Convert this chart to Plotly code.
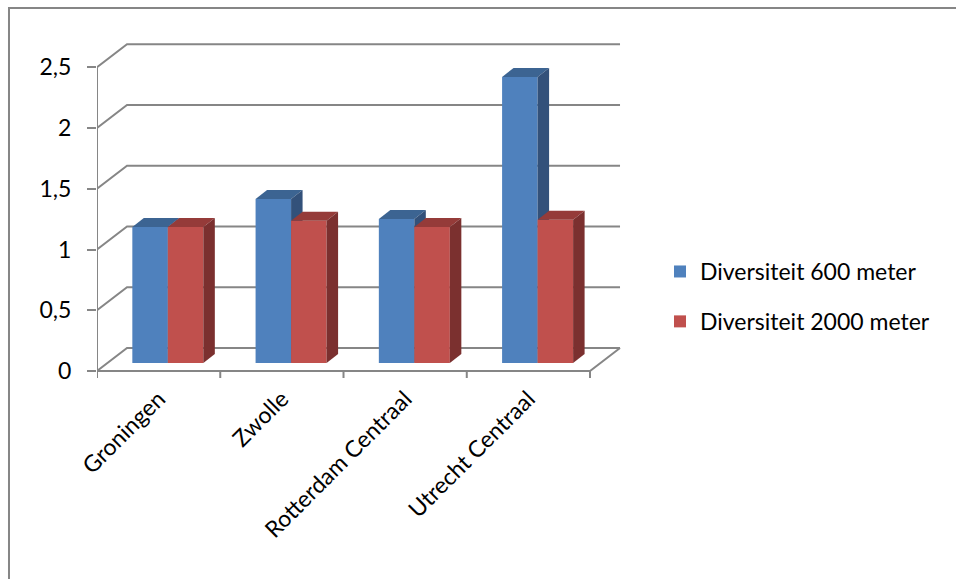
import plotly.graph_objects as go

# ---------------- data ----------------
categories = ["Groningen", "Zwolle", "Rotterdam Centraal", "Utrecht Centraal"]
series_names = ["Diversiteit 600 meter", "Diversiteit 2000 meter"]
div_600 = [1.12, 1.35, 1.185, 2.355]
div_2000 = [1.12, 1.17, 1.12, 1.18]
y_tick_values = [0, 0.5, 1, 1.5, 2, 2.5]
y_tick_labels = ["0", "0,5", "1", "1,5", "2", "2,5"]

# ---------------- style / geometry ----------------
W, H = 956, 579
PX_X = 123.25          # px per category
PX_Y = 121.5           # px per value unit
X0_PX, Y0_PX = 97, 371  # pixel of (0,0) on the front plane
DXB, DYB = 30 / PX_X, 23 / PX_Y          # back-wall offset
BX, BY = 9.2 / PX_X, 8 / PX_Y            # bar front-plane offset
BW = 35.5 / PX_X                         # bar width
SX, SY = 11.5 / PX_X, 9 / PX_Y           # bar depth
GRID = "#868686"
FRONT = ["#4F81BD", "#C0504D"]
TOP = ["#3C6492", "#953B39"]
SIDE = ["#33517A", "#7B302F"]
FONT = "Lato"
FS = 23

n = len(categories)
XMIN, XMAX = 0.0, 4.3
YMIN, YMAX = -0.074, 2.807
L = X0_PX
R = W - (X0_PX + XMAX * PX_X)
B = H - (Y0_PX - YMIN * PX_Y)
T = Y0_PX - YMAX * PX_Y

fig = go.Figure()

def line(xs, ys):
    fig.add_trace(go.Scatter(x=xs, y=ys, mode="lines", line=dict(color=GRID, width=2),
                             hoverinfo="skip", showlegend=False, zorder=0))

# walls / floor
for v in y_tick_values:
    line([0, DXB, n + DXB], [v, v + DYB, v + DYB])
line([0, n, n + DXB], [0, 0, DYB])
line([0, 0], [0, y_tick_values[-1]])
# front category tick marks
tick_len = 7 / PX_Y
for i in range(n + 1):
    line([i, i], [0, -tick_len])

# bars
series = [div_600, div_2000]
for s, vals in enumerate(series):
    z = s + 1
    xs_left = [i + 0.5 + BX - BW + s * BW for i in range(n)]
    fig.add_trace(go.Bar(
        x=[i + 0.5 + BX for i in range(n)], y=vals, base=BY, width=BW,
        offset=-BW + s * BW, marker=dict(color=FRONT[s], line=dict(width=0)),
        name=series_names[s], legendgroup=str(s), zorder=z, hoverinfo="skip"))
    for i, v in enumerate(vals):
        xl = xs_left[i]
        xr = xl + BW
        top = BY + v
        # top face
        fig.add_trace(go.Scatter(
            x=[xl, xl + SX, xr + SX, xr, xl], y=[top, top + SY, top + SY, top, top],
            fill="toself", fillcolor=TOP[s], mode="lines", line=dict(width=0, color=TOP[s]),
            hoverinfo="skip", showlegend=False, zorder=z))
        # side face
        fig.add_trace(go.Scatter(
            x=[xr, xr + SX, xr + SX, xr, xr], y=[BY, BY + SY, top + SY, top, BY],
            fill="toself", fillcolor=SIDE[s], mode="lines", line=dict(width=0, color=SIDE[s]),
            hoverinfo="skip", showlegend=False, zorder=z))

pw = W - L - R
ph = H - T - B
def px2paper_x(px):
    return (px - L) / pw
def px2paper_y(py):
    return (H - B - py) / ph

fig.update_layout(
    width=W, height=H,
    margin=dict(l=L, r=R, t=T, b=B, pad=0),
    paper_bgcolor="white", plot_bgcolor="rgba(0,0,0,0)",
    font=dict(family=FONT, size=FS, color="black"),
    barmode="overlay",
    xaxis=dict(range=[XMIN, XMAX], tickvals=[i + 0.5 for i in range(n)], ticktext=categories,
               tickangle=-45, showgrid=False, zeroline=False, showline=False, ticks="",
               fixedrange=True),
    yaxis=dict(range=[YMIN, YMAX], tickvals=y_tick_values, ticktext=y_tick_labels,
               ticks="outside", ticklen=9, tickwidth=2, tickcolor=GRID,
               ticklabelstandoff=11, showgrid=False, zeroline=False, showline=False,
               fixedrange=True),
    legend=dict(x=px2paper_x(660), y=px2paper_y(250), xanchor="left", yanchor="top",
                traceorder="grouped", tracegroupgap=17, bgcolor="rgba(0,0,0,0)",
                font=dict(family=FONT, size=FS, color="black")),
    shapes=[dict(type="rect", xref="paper", yref="paper",
                 x0=px2paper_x(9), y0=px2paper_y(H + 20), x1=px2paper_x(W + 20), y1=px2paper_y(8),
                 line=dict(color=GRID, width=2), fillcolor="rgba(0,0,0,0)", layer="below")],
)

fig.write_html("out.html")
